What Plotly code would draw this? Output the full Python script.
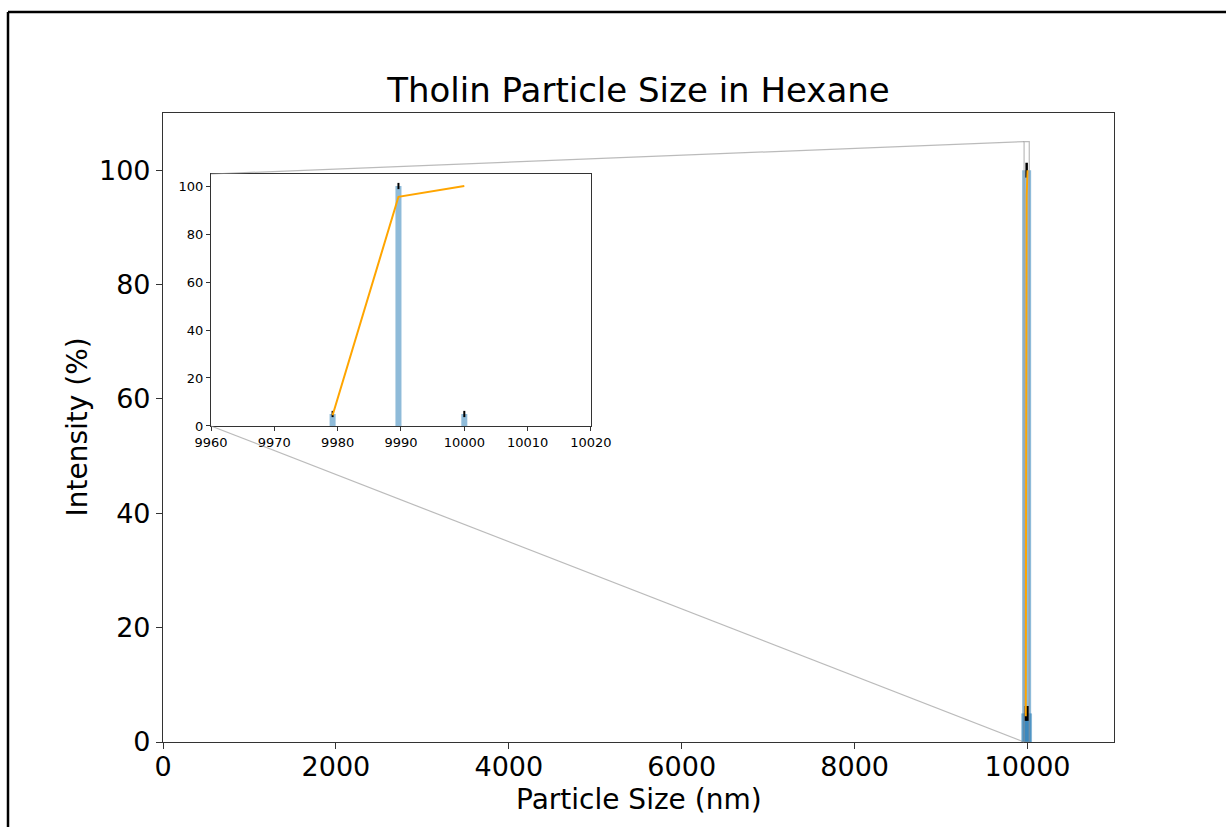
import plotly.graph_objects as go

# Particle size distribution (DLS) of tholin in hexane
sizes = [9979.2, 9989.6, 10000.0]          # nm
intensity = [5.0, 100.0, 5.0]               # %
intensity_err = [1.3, 1.3, 1.3]             # %
cumulative = [4.5, 95.5, 100.0]             # %

main_x_range = [0, 11000]
main_y_range = [0, 110]
main_x_ticks = [0, 2000, 4000, 6000, 8000, 10000]
main_y_ticks = [0, 20, 40, 60, 80, 100]

zoom_x_range = [9960, 10020]
zoom_y_range = [0, 105]
zoom_x_ticks = [9960, 9970, 9980, 9990, 10000, 10010, 10020]
zoom_y_ticks = [0, 20, 40, 60, 80, 100]

BLUE = "#1f77b4"
ORANGE = "#ffa500"
FONT = "DejaVu Sans"

W, H = 1226, 827
L, R, T, B = 163, 112, 113, 85
inset_dom_x = [0.0505, 0.450]
inset_dom_y = [0.5024, 0.903]

fig = go.Figure()

# main axes
fig.add_trace(go.Bar(
    x=sizes, y=intensity, width=104,
    marker=dict(color=BLUE, opacity=0.5, line=dict(width=0)),
    error_y=dict(type="data", array=intensity_err, color="black", thickness=2.5, width=0),
    xaxis="x", yaxis="y", showlegend=False,
))
fig.add_trace(go.Scatter(
    x=sizes, y=cumulative, mode="lines",
    line=dict(color=ORANGE, width=2), xaxis="x", yaxis="y", showlegend=False,
))

# zoomed inset
fig.add_trace(go.Bar(
    x=sizes, y=intensity, width=0.95,
    marker=dict(color=BLUE, opacity=0.5, line=dict(width=0)),
    error_y=dict(type="data", array=intensity_err, color="black", thickness=2, width=0),
    xaxis="x2", yaxis="y2", showlegend=False,
))
fig.add_trace(go.Scatter(
    x=sizes, y=cumulative, mode="lines",
    line=dict(color=ORANGE, width=2), xaxis="x2", yaxis="y2", showlegend=False,
))

axis_common = dict(showgrid=False, zeroline=False, showline=True, mirror=True,
                   linecolor="#333333", ticks="outside", tickcolor="#333333",
                   tickformat="d")

fig.update_layout(
    width=W, height=H,
    margin=dict(l=L, r=R, t=T, b=B),
    paper_bgcolor="white", plot_bgcolor="white",
    barmode="overlay",
    font=dict(family=FONT, color="black"),
    xaxis=dict(range=main_x_range, tickvals=main_x_ticks, domain=[0, 1],
               tickfont=dict(size=27), ticklen=6, linewidth=1.2,
               ticklabelstandoff=-6, **axis_common),
    yaxis=dict(range=main_y_range, tickvals=main_y_ticks, domain=[0, 1],
               tickfont=dict(size=27), ticklen=6, linewidth=1.2, **axis_common),
    xaxis2=dict(range=zoom_x_range, tickvals=zoom_x_ticks, domain=inset_dom_x,
                anchor="y2", tickfont=dict(size=13), ticklen=4, linewidth=1.2,
                **axis_common),
    yaxis2=dict(range=zoom_y_range, tickvals=zoom_y_ticks, domain=inset_dom_y,
                anchor="x2", tickfont=dict(size=13), ticklen=4, linewidth=1.2,
                **axis_common),
    title=dict(text="Tholin Particle Size in Hexane", x=0.5, xref="paper",
               y=1 - 90 / H, yref="container", yanchor="middle",
               font=dict(size=34, family=FONT, color="black")),
)

# axis titles
fig.add_annotation(text="Particle Size (nm)", xref="paper", yref="paper",
                   x=0.5, y=-(799 - 742) / (H - T - B), yanchor="middle",
                   showarrow=False, font=dict(size=28))
fig.add_annotation(text="Intensity (%)", xref="paper", yref="paper",
                   x=-(163 - 77) / (W - L - R), y=0.5, xanchor="center",
                   textangle=-90, showarrow=False, font=dict(size=28))

# zoom region marker and connector lines
def to_paper(xv, yv):
    px = (xv - main_x_range[0]) / (main_x_range[1] - main_x_range[0])
    py = (yv - main_y_range[0]) / (main_y_range[1] - main_y_range[0])
    return px, py

GRAY = "rgba(150,150,150,0.65)"
fig.add_shape(type="rect", xref="x", yref="y",
              x0=zoom_x_range[0], x1=zoom_x_range[1],
              y0=zoom_y_range[0], y1=zoom_y_range[1],
              line=dict(color=GRAY, width=1.2), layer="above")
tl = to_paper(zoom_x_range[0], zoom_y_range[1])
bl = to_paper(zoom_x_range[0], zoom_y_range[0])
fig.add_shape(type="line", xref="paper", yref="paper",
              x0=inset_dom_x[0], y0=inset_dom_y[1], x1=tl[0], y1=tl[1],
              line=dict(color=GRAY, width=1.2), layer="above")
fig.add_shape(type="line", xref="paper", yref="paper",
              x0=inset_dom_x[0], y0=inset_dom_y[0], x1=bl[0], y1=bl[1],
              line=dict(color=GRAY, width=1.2), layer="above")

# outer frame (left and top edges)
pw, ph = W - L - R, H - T - B
fx0 = (8 - L) / pw
fy1 = (742 - 12) / ph
fig.add_shape(type="line", xref="paper", yref="paper",
              x0=fx0, y0=(742 - H) / ph, x1=fx0, y1=fy1,
              line=dict(color="black", width=2.5))
fig.add_shape(type="line", xref="paper", yref="paper",
              x0=fx0, y0=fy1, x1=(W - L) / pw, y1=fy1,
              line=dict(color="black", width=2.5))

fig.write_html("out.html", config={"displayModeBar": False})
